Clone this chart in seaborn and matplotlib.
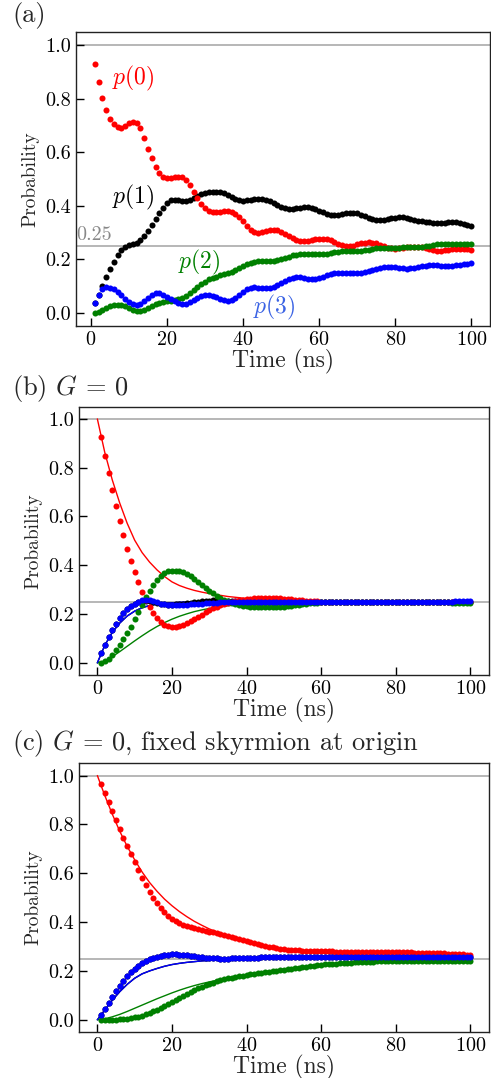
import matplotlib
matplotlib.use('Agg')
import matplotlib.pyplot as plt
import seaborn as sns

sns.set_style('ticks')
plt.rcParams['font.family'] = 'serif'
plt.rcParams['font.serif'] = ['cmr10']
plt.rcParams['mathtext.fontset'] = 'cm'
plt.rcParams['axes.unicode_minus'] = False
plt.rcParams['axes.formatter.use_mathtext'] = True

# time axis of the simulated points (ns)
t_dots = list(range(1, 101))
# time axis of the fitted curves (ns)
t_fit = [0, 2, 4, 6, 8, 10, 12, 14, 16, 18, 20, 22, 24, 26, 28, 30, 35, 40, 45, 50, 60, 70, 80, 90, 100]

# ---- panel (a) ----
p0_a = [0.930, 0.862, 0.804, 0.760, 0.726, 0.704, 0.694, 0.692, 0.698, 0.708,
        0.714, 0.710, 0.692, 0.654, 0.613, 0.577, 0.545, 0.523, 0.507, 0.503,
        0.503, 0.506, 0.509, 0.507, 0.497, 0.476, 0.453, 0.430, 0.408, 0.390,
        0.380, 0.376, 0.375, 0.377, 0.380, 0.381, 0.378, 0.370, 0.358, 0.342,
        0.325, 0.311, 0.302, 0.299, 0.300, 0.304, 0.308, 0.309, 0.308, 0.303,
        0.295, 0.286, 0.278, 0.272, 0.268, 0.267, 0.268, 0.271, 0.274, 0.276,
        0.276, 0.274, 0.270, 0.264, 0.258, 0.253, 0.250, 0.249, 0.251, 0.255,
        0.259, 0.262, 0.263, 0.262, 0.259, 0.254, 0.248, 0.243, 0.240, 0.239,
        0.240, 0.242, 0.244, 0.246, 0.247, 0.247, 0.245, 0.241, 0.237, 0.234,
        0.232, 0.232, 0.233, 0.235, 0.237, 0.238, 0.238, 0.237, 0.237, 0.236]
p1_a = [0.035, 0.066, 0.100, 0.134, 0.163, 0.190, 0.215, 0.234, 0.246, 0.254,
        0.258, 0.262, 0.272, 0.288, 0.307, 0.329, 0.351, 0.372, 0.392, 0.410,
        0.420, 0.423, 0.421, 0.418, 0.418, 0.422, 0.430, 0.437, 0.443, 0.447,
        0.450, 0.452, 0.453, 0.451, 0.446, 0.439, 0.431, 0.424, 0.420, 0.419,
        0.420, 0.422, 0.424, 0.425, 0.425, 0.423, 0.418, 0.411, 0.403, 0.396,
        0.391, 0.389, 0.389, 0.390, 0.392, 0.394, 0.394, 0.392, 0.388, 0.382,
        0.375, 0.370, 0.366, 0.365, 0.366, 0.368, 0.371, 0.373, 0.373, 0.371,
        0.367, 0.361, 0.355, 0.350, 0.347, 0.346, 0.347, 0.350, 0.353, 0.355,
        0.357, 0.357, 0.355, 0.352, 0.348, 0.344, 0.341, 0.339, 0.338, 0.337,
        0.337, 0.337, 0.337, 0.338, 0.338, 0.338, 0.336, 0.333, 0.329, 0.325]
p2_a = [0.000, 0.004, 0.010, 0.017, 0.023, 0.028, 0.030, 0.029, 0.024, 0.016,
        0.009, 0.005, 0.005, 0.009, 0.016, 0.024, 0.031, 0.037, 0.041, 0.043,
        0.045, 0.047, 0.050, 0.055, 0.062, 0.072, 0.083, 0.095, 0.106, 0.116,
        0.124, 0.130, 0.135, 0.139, 0.143, 0.147, 0.152, 0.159, 0.167, 0.175,
        0.182, 0.187, 0.190, 0.192, 0.193, 0.193, 0.193, 0.194, 0.197, 0.201,
        0.206, 0.210, 0.214, 0.217, 0.219, 0.219, 0.219, 0.218, 0.218, 0.218,
        0.219, 0.221, 0.224, 0.226, 0.228, 0.229, 0.229, 0.229, 0.230, 0.231,
        0.232, 0.234, 0.236, 0.238, 0.240, 0.241, 0.242, 0.242, 0.242, 0.242,
        0.243, 0.244, 0.245, 0.246, 0.246, 0.246, 0.247, 0.249, 0.251, 0.253,
        0.255, 0.256, 0.256, 0.256, 0.255, 0.255, 0.255, 0.255, 0.255, 0.255]
p3_a = [0.035, 0.066, 0.090, 0.096, 0.094, 0.088, 0.078, 0.066, 0.052, 0.039,
        0.031, 0.028, 0.031, 0.042, 0.056, 0.067, 0.073, 0.072, 0.066, 0.058,
        0.050, 0.042, 0.035, 0.031, 0.032, 0.038, 0.047, 0.056, 0.063, 0.066,
        0.065, 0.062, 0.057, 0.052, 0.047, 0.045, 0.048, 0.056, 0.067, 0.078,
        0.087, 0.093, 0.095, 0.094, 0.092, 0.091, 0.092, 0.096, 0.103, 0.111,
        0.119, 0.126, 0.130, 0.132, 0.132, 0.130, 0.127, 0.125, 0.125, 0.128,
        0.133, 0.139, 0.144, 0.148, 0.150, 0.150, 0.149, 0.148, 0.147, 0.147,
        0.148, 0.151, 0.156, 0.161, 0.165, 0.168, 0.170, 0.171, 0.171, 0.170,
        0.168, 0.166, 0.165, 0.166, 0.168, 0.171, 0.174, 0.176, 0.177, 0.177,
        0.177, 0.176, 0.175, 0.175, 0.176, 0.177, 0.179, 0.181, 0.183, 0.184]

# ---- panel (b): G = 0 ----
p0_b = [0.925, 0.846, 0.778, 0.709, 0.644, 0.582, 0.523, 0.468, 0.418, 0.372,
        0.330, 0.292, 0.258, 0.228, 0.203, 0.183, 0.168, 0.157, 0.150, 0.147,
        0.147, 0.150, 0.155, 0.162, 0.170, 0.179, 0.188, 0.198, 0.207, 0.216,
        0.224, 0.231, 0.237, 0.242, 0.247, 0.251, 0.254, 0.257, 0.259, 0.261,
        0.263, 0.264, 0.265, 0.266, 0.266, 0.266, 0.266, 0.265, 0.264, 0.263,
        0.262, 0.260, 0.259, 0.257, 0.256, 0.255, 0.254, 0.253, 0.252, 0.251,
        0.250, 0.250, 0.249, 0.249, 0.249, 0.249, 0.249, 0.250, 0.250, 0.250,
        0.250, 0.250, 0.250, 0.250, 0.250, 0.250, 0.250, 0.250, 0.250, 0.250,
        0.250, 0.250, 0.250, 0.250, 0.250, 0.250, 0.250, 0.250, 0.250, 0.250,
        0.250, 0.250, 0.250, 0.250, 0.250, 0.250, 0.250, 0.250, 0.250, 0.250]
p1_b = [0.041, 0.075, 0.106, 0.135, 0.161, 0.184, 0.203, 0.219, 0.232, 0.243,
        0.250, 0.254, 0.255, 0.253, 0.249, 0.245, 0.242, 0.240, 0.239, 0.239,
        0.240, 0.241, 0.242, 0.244, 0.246, 0.248, 0.250, 0.252, 0.254, 0.255,
        0.256, 0.256, 0.256, 0.255, 0.254, 0.253, 0.252, 0.251, 0.250, 0.250,
        0.250, 0.250, 0.250, 0.250, 0.250, 0.250, 0.250, 0.250, 0.250, 0.250,
        0.250, 0.250, 0.250, 0.250, 0.250, 0.250, 0.250, 0.250, 0.250, 0.250,
        0.250, 0.250, 0.250, 0.250, 0.250, 0.250, 0.250, 0.250, 0.250, 0.250,
        0.250, 0.250, 0.250, 0.250, 0.250, 0.250, 0.250, 0.250, 0.250, 0.250,
        0.250, 0.250, 0.250, 0.250, 0.250, 0.250, 0.250, 0.250, 0.250, 0.250,
        0.250, 0.250, 0.250, 0.250, 0.250, 0.250, 0.250, 0.250, 0.250, 0.251]
p2_b = [0.000, 0.006, 0.016, 0.031, 0.051, 0.074, 0.098, 0.123, 0.149, 0.178,
        0.208, 0.238, 0.268, 0.296, 0.320, 0.341, 0.357, 0.368, 0.375, 0.378,
        0.378, 0.376, 0.371, 0.364, 0.355, 0.344, 0.332, 0.320, 0.308, 0.296,
        0.285, 0.275, 0.266, 0.259, 0.252, 0.247, 0.242, 0.238, 0.235, 0.233,
        0.231, 0.230, 0.229, 0.228, 0.228, 0.228, 0.228, 0.229, 0.230, 0.231,
        0.233, 0.235, 0.237, 0.239, 0.241, 0.243, 0.245, 0.246, 0.247, 0.248,
        0.248, 0.248, 0.248, 0.249, 0.249, 0.249, 0.249, 0.249, 0.249, 0.249,
        0.249, 0.249, 0.249, 0.249, 0.249, 0.248, 0.248, 0.248, 0.248, 0.248,
        0.248, 0.248, 0.248, 0.248, 0.248, 0.248, 0.248, 0.248, 0.248, 0.248,
        0.248, 0.248, 0.248, 0.248, 0.247, 0.247, 0.247, 0.247, 0.247, 0.247]
p3_b = [0.041, 0.075, 0.106, 0.135, 0.161, 0.184, 0.203, 0.219, 0.232, 0.243,
        0.251, 0.256, 0.258, 0.257, 0.253, 0.248, 0.243, 0.240, 0.238, 0.237,
        0.237, 0.237, 0.238, 0.239, 0.240, 0.241, 0.242, 0.243, 0.244, 0.245,
        0.246, 0.247, 0.248, 0.249, 0.250, 0.250, 0.250, 0.250, 0.250, 0.250,
        0.250, 0.250, 0.250, 0.250, 0.250, 0.250, 0.250, 0.250, 0.250, 0.250,
        0.250, 0.250, 0.250, 0.250, 0.250, 0.250, 0.250, 0.250, 0.250, 0.250,
        0.250, 0.250, 0.250, 0.250, 0.250, 0.250, 0.250, 0.250, 0.250, 0.251,
        0.251, 0.251, 0.251, 0.251, 0.251, 0.251, 0.251, 0.251, 0.251, 0.251,
        0.251, 0.251, 0.251, 0.251, 0.251, 0.251, 0.251, 0.251, 0.251, 0.251,
        0.251, 0.251, 0.251, 0.251, 0.251, 0.252, 0.252, 0.252, 0.252, 0.252]
fit_p0_b = [1.000, 0.862, 0.750, 0.655, 0.572, 0.503, 0.452, 0.413, 0.381, 0.354,
            0.332, 0.317, 0.306, 0.297, 0.290, 0.284, 0.272, 0.264, 0.258, 0.255,
            0.252, 0.251, 0.250, 0.250, 0.250]
fit_p2_b = [0.000, 0.008, 0.025, 0.046, 0.068, 0.090, 0.111, 0.131, 0.149, 0.165,
            0.179, 0.191, 0.201, 0.210, 0.217, 0.223, 0.234, 0.241, 0.245, 0.248,
            0.249, 0.250, 0.250, 0.250, 0.250]
fit_p3_b = [0.000, 0.072, 0.125, 0.163, 0.192, 0.212, 0.226, 0.235, 0.241, 0.244,
            0.246, 0.248, 0.249, 0.249, 0.250, 0.250, 0.250, 0.250, 0.250, 0.250,
            0.250, 0.250, 0.250, 0.250, 0.250]

# ---- panel (c): G = 0, fixed skyrmion at origin ----
p0_c = [0.965, 0.928, 0.890, 0.853, 0.817, 0.780, 0.745, 0.711, 0.678, 0.645,
        0.613, 0.582, 0.552, 0.524, 0.499, 0.477, 0.458, 0.441, 0.426, 0.413,
        0.403, 0.395, 0.389, 0.384, 0.379, 0.375, 0.371, 0.368, 0.364, 0.361,
        0.358, 0.355, 0.351, 0.347, 0.343, 0.338, 0.334, 0.330, 0.326, 0.322,
        0.318, 0.314, 0.310, 0.306, 0.302, 0.299, 0.296, 0.293, 0.291, 0.289,
        0.287, 0.286, 0.285, 0.284, 0.283, 0.283, 0.282, 0.282, 0.281, 0.281,
        0.280, 0.280, 0.280, 0.279, 0.279, 0.279, 0.278, 0.278, 0.278, 0.278,
        0.277, 0.277, 0.277, 0.277, 0.277, 0.277, 0.277, 0.277, 0.277, 0.277,
        0.277, 0.276, 0.276, 0.276, 0.275, 0.275, 0.275, 0.274, 0.274, 0.273,
        0.273, 0.272, 0.272, 0.271, 0.270, 0.270, 0.269, 0.268, 0.267, 0.266]
p2_c = [0.000, 0.000, 0.000, 0.001, 0.001, 0.002, 0.003, 0.005, 0.007, 0.010,
        0.013, 0.017, 0.022, 0.028, 0.035, 0.042, 0.050, 0.058, 0.066, 0.074,
        0.082, 0.090, 0.098, 0.106, 0.114, 0.121, 0.128, 0.135, 0.141, 0.147,
        0.152, 0.157, 0.161, 0.165, 0.169, 0.172, 0.175, 0.178, 0.181, 0.184,
        0.186, 0.189, 0.191, 0.193, 0.195, 0.197, 0.199, 0.201, 0.203, 0.205,
        0.207, 0.209, 0.211, 0.213, 0.215, 0.217, 0.219, 0.221, 0.223, 0.225,
        0.227, 0.228, 0.229, 0.230, 0.231, 0.232, 0.233, 0.234, 0.235, 0.236,
        0.237, 0.237, 0.238, 0.238, 0.239, 0.239, 0.240, 0.240, 0.240, 0.241,
        0.241, 0.241, 0.241, 0.241, 0.241, 0.241, 0.241, 0.241, 0.241, 0.241,
        0.241, 0.241, 0.241, 0.241, 0.241, 0.241, 0.241, 0.241, 0.241, 0.241]
p3_c = [0.020, 0.045, 0.070, 0.095, 0.118, 0.140, 0.160, 0.178, 0.194, 0.208,
        0.220, 0.231, 0.240, 0.248, 0.254, 0.259, 0.263, 0.265, 0.267, 0.268,
        0.268, 0.267, 0.266, 0.264, 0.262, 0.260, 0.258, 0.256, 0.254, 0.253,
        0.252, 0.251, 0.250, 0.250, 0.250, 0.251, 0.251, 0.252, 0.252, 0.253,
        0.253, 0.254, 0.254, 0.255, 0.255, 0.255, 0.256, 0.256, 0.256, 0.256,
        0.256, 0.256, 0.256, 0.256, 0.256, 0.256, 0.256, 0.256, 0.256, 0.256,
        0.256, 0.256, 0.256, 0.256, 0.256, 0.256, 0.256, 0.256, 0.256, 0.256,
        0.256, 0.256, 0.256, 0.256, 0.256, 0.256, 0.256, 0.256, 0.256, 0.256,
        0.256, 0.256, 0.256, 0.256, 0.256, 0.256, 0.256, 0.256, 0.256, 0.257,
        0.257, 0.257, 0.257, 0.257, 0.257, 0.257, 0.257, 0.257, 0.257, 0.257]
p1_c = p3_c  # p(1) and p(3) coincide here, black sits under blue
fit_p0_c = [1.000, 0.918, 0.842, 0.772, 0.710, 0.655, 0.605, 0.562, 0.526, 0.494,
            0.467, 0.443, 0.422, 0.403, 0.387, 0.372, 0.342, 0.320, 0.302, 0.290,
            0.273, 0.263, 0.257, 0.254, 0.252]
fit_p2_c = [0.000, 0.004, 0.012, 0.022, 0.034, 0.047, 0.060, 0.073, 0.086, 0.098,
            0.110, 0.121, 0.131, 0.140, 0.148, 0.155, 0.171, 0.185, 0.197, 0.207,
            0.222, 0.233, 0.240, 0.245, 0.248]
fit_p3_c = [0.000, 0.040, 0.080, 0.115, 0.145, 0.170, 0.188, 0.200, 0.210, 0.219,
            0.226, 0.231, 0.235, 0.238, 0.241, 0.243, 0.246, 0.248, 0.249, 0.250,
            0.250, 0.250, 0.250, 0.250, 0.250]

COLORS = {'p0': 'red', 'p1': 'black', 'p2': 'green', 'p3': 'blue'}
ORDER = ['p1', 'p0', 'p2', 'p3']


def draw_panel(ax, dots, fits=None, xlim=(-5, 105)):
    ax.axhline(1.0, color='#aaaaaa', lw=1.2, zorder=0)
    ax.axhline(0.25, color='#aaaaaa', lw=1.2, zorder=0)
    if fits:
        for key in ORDER:
            if key in fits:
                sns.lineplot(x=t_fit, y=fits[key], ax=ax, color=COLORS[key], lw=1.0, zorder=1)
    for key in ORDER:
        sns.scatterplot(x=t_dots, y=dots[key], ax=ax, color=COLORS[key], s=19,
                        linewidth=0, legend=False, zorder=2)
    ax.set_xlim(*xlim)
    ax.set_ylim(-0.05, 1.05)
    ax.set_xticks([0, 20, 40, 60, 80, 100])
    ax.set_yticks([0.0, 0.2, 0.4, 0.6, 0.8, 1.0])
    ax.set_yticklabels(['0.0', '0.2', '0.4', '0.6', '0.8', '1.0'])
    ax.tick_params(direction='in', length=6, width=1, labelsize=14.5, colors='black')
    for s in ax.spines.values():
        s.set_color('#222222')
        s.set_linewidth(1.0)
    ax.set_xlabel('Time (ns)', fontsize=17, labelpad=0)
    ax.set_ylabel('Probability', fontsize=14)


fig = plt.figure(figsize=(4.91, 10.78), dpi=100)

ax_a = fig.add_axes([0.1548, 0.6976, 0.8432, 0.2727])
draw_panel(ax_a, {'p0': p0_a, 'p1': p1_a, 'p2': p2_a, 'p3': p3_a}, xlim=(-3.95, 104.95))
ax_a.text(-3.8, 0.256, '0.25', color='#888888', fontsize=14.5, ha='left', va='bottom')
ax_a.text(5.6, 0.875, '$p(0)$', color='red', fontsize=17, ha='left', va='center')
ax_a.text(5.6, 0.432, '$p(1)$', color='black', fontsize=17, ha='left', va='center')
ax_a.text(22.8, 0.187, '$p(2)$', color='green', fontsize=17, ha='left', va='center')
ax_a.text(42.5, 0.019, '$p(3)$', color='#3b63e4', fontsize=17, ha='left', va='center')

ax_b = fig.add_axes([0.1603, 0.3738, 0.8356, 0.2489])
draw_panel(ax_b, {'p0': p0_b, 'p1': p1_b, 'p2': p2_b, 'p3': p3_b},
           fits={'p1': fit_p3_b, 'p0': fit_p0_b, 'p2': fit_p2_b, 'p3': fit_p3_b})

ax_c = fig.add_axes([0.1603, 0.0427, 0.8356, 0.2492])
draw_panel(ax_c, {'p0': p0_c, 'p1': p1_c, 'p2': p2_c, 'p3': p3_c},
           fits={'p1': fit_p3_c, 'p0': fit_p0_c, 'p2': fit_p2_c, 'p3': fit_p3_c})

fig.text(0.0244, 0.986, '(a)', fontsize=19, ha='left', va='center')
fig.text(0.0244, 0.640, r'(b) $G\,=\,0$', fontsize=19, ha='left', va='center')
fig.text(0.0244, 0.310, r'(c) $G\,=\,0$, fixed skyrmion at origin', fontsize=19, ha='left', va='center')

fig.savefig('out.png', dpi=100)
